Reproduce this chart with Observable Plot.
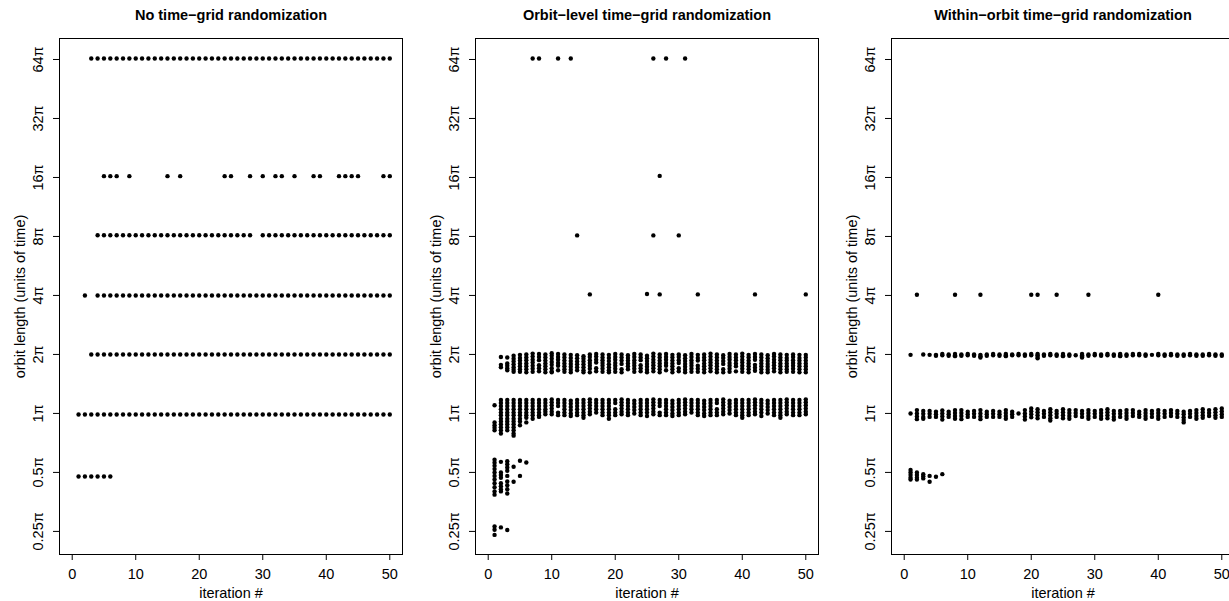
<!DOCTYPE html>
<html>
<head>
<meta charset="utf-8">
<script src="https://cdn.jsdelivr.net/npm/d3@7"></script>
<script src="https://cdn.jsdelivr.net/npm/@observablehq/plot@0.6"></script>
<style>
  body { margin: 0; background: #fff; }
  #wrap { width: 1229px; height: 601px; overflow: hidden; display: flex; background: #fff; }
  #wrap > svg { flex: none; }
</style>
</head>
<body>
<div id="wrap"></div>
<script>
// ---------- text ----------
const titles = [
  "No time\u2212grid randomization",
  "Orbit\u2212level time\u2212grid randomization",
  "Within\u2212orbit time\u2212grid randomization"
];
const xLabel = "iteration #";
const yLabel = "orbit length (units of time)";

// ---------- axes ----------
const xTicks = [0, 10, 20, 30, 40, 50];
const yTicks = [0.25, 0.5, 1, 2, 4, 8, 16, 32, 64];   // multiples of π
const xDomain = [-2, 52];
const yDomain = [0.1906, 81.9];

// ---------- panel 1: no randomization (orbit length in units of π; iteration runs [from, to]) ----------
const noRandLevels = [64.75, 16.25, 8.12, 4.0, 2.0, 0.988, 0.477];
const noRandRuns = [
  [[3, 50]],
  [[5, 7], [9, 9], [15, 15], [17, 17], [24, 25], [28, 28], [30, 30], [32, 33], [35, 35], [38, 39], [42, 45], [49, 50]],
  [[4, 28], [30, 50]],
  [[2, 2], [4, 50]],
  [[3, 50]],
  [[1, 50]],
  [[1, 6]]
];

// ---------- panel 2: orbit-level randomization (values per iteration 1..50) ----------
const orbitNear2 = [
  [], [1.94,1.77,1.72], [1.93,1.80,1.75,1.70,1.66],
  [1.97,1.90,1.84,1.78,1.72,1.67,1.63], [1.99,1.92,1.86,1.80,1.74,1.68,1.63],
  [2.00,1.93,1.87,1.80,1.74,1.68,1.62], [2.02,1.95,1.88,1.82,1.75,1.69,1.63],
  [2.01,1.94,1.87,1.76,1.70,1.64], [2.00,1.93,1.86,1.80,1.74,1.68,1.62],
  [2.03,1.97,1.90,1.83,1.77,1.70,1.64,1.62], [2.01,1.94,1.88,1.81,1.75,1.66],
  [2.00,1.93,1.86,1.80,1.74,1.68,1.63], [1.99,1.92,1.85,1.79,1.73,1.67,1.62],
  [1.98,1.91,1.84,1.78,1.72,1.66], [1.96,1.90,1.84,1.78,1.72,1.66,1.62],
  [2.00,1.94,1.87,1.81,1.75,1.69,1.62], [2.01,1.95,1.88,1.82,1.70,1.64],
  [2.00,1.93,1.87,1.81,1.75,1.69,1.63], [1.99,1.92,1.85,1.78,1.72,1.66,1.62],
  [2.01,1.94,1.88,1.81,1.75,1.69,1.63], [2.00,1.93,1.86,1.79,1.68,1.62],
  [1.98,1.92,1.86,1.80,1.74,1.68], [2.01,1.94,1.87,1.81,1.75,1.69,1.63],
  [2.00,1.93,1.87,1.76,1.70,1.64], [1.97,1.91,1.85,1.79,1.73,1.67,1.62],
  [2.02,1.95,1.88,1.82,1.76,1.70,1.64], [2.00,1.93,1.86,1.80,1.74,1.68,1.62],
  [2.01,1.94,1.88,1.81,1.75,1.66], [1.99,1.93,1.86,1.80,1.74,1.68,1.62],
  [2.00,1.94,1.87,1.81,1.70,1.64], [1.98,1.91,1.85,1.79,1.73,1.67,1.62],
  [2.01,1.94,1.87,1.81,1.75,1.69,1.63], [1.99,1.92,1.86,1.75,1.69,1.63],
  [2.00,1.93,1.87,1.80,1.74,1.68,1.62], [2.02,1.95,1.88,1.82,1.76,1.70,1.64],
  [2.00,1.93,1.86,1.80,1.74,1.68,1.62], [1.98,1.92,1.85,1.79,1.68,1.62],
  [2.01,1.94,1.88,1.81,1.75,1.69,1.63], [2.00,1.93,1.87,1.80,1.74,1.64],
  [2.02,1.95,1.88,1.82,1.75,1.69,1.63], [1.99,1.93,1.86,1.80,1.74,1.68,1.62],
  [2.01,1.94,1.88,1.77,1.71,1.65], [2.00,1.93,1.86,1.80,1.74,1.68,1.62],
  [1.98,1.91,1.85,1.79,1.73,1.67,1.62], [2.01,1.95,1.88,1.82,1.76,1.70,1.64],
  [2.00,1.93,1.87,1.80,1.74,1.68,1.62], [1.99,1.92,1.86,1.80,1.74,1.68,1.63],
  [2.00,1.94,1.87,1.81,1.75,1.69,1.63], [1.99,1.92,1.86,1.80,1.74,1.68,1.62],
  [1.99,1.93,1.86,1.80,1.74,1.68,1.62]
];
const orbitNear1 = [
  [1.10,0.90,0.87,0.845,0.82],
  [1.17,1.13,1.09,1.05,1.01,0.98,0.94,0.91,0.88,0.85,0.82,0.79],
  [1.17,1.13,1.09,1.05,1.01,0.98,0.94,0.91,0.88,0.85,0.82],
  [1.17,1.13,1.09,1.05,1.01,0.98,0.94,0.91,0.88,0.85,0.82,0.79,0.77],
  [1.17,1.13,1.09,1.05,1.01,0.98,0.94,0.91,0.87],
  [1.17,1.13,1.09,1.05,1.01,0.98,0.95,0.90],
  [1.17,1.13,1.09,1.05,1.01,0.98,0.94],
  [1.17,1.13,1.09,1.05,1.01,0.98,0.96],
  [1.17,1.13,1.09,1.05,1.02,0.99], [1.18,1.14,1.10,1.06,1.02,0.99],
  [1.17,1.13,1.09,1.01,0.98], [1.17,1.13,1.09,1.05,1.01,0.98],
  [1.16,1.12,1.08,1.04,1.00,0.97], [1.17,1.13,1.09,1.05,1.01,0.98],
  [1.17,1.13,1.09,1.05,1.01,0.98,0.95], [1.18,1.14,1.10,1.06,1.02,0.99],
  [1.17,1.13,1.09,1.05,1.01], [1.17,1.13,1.09,1.05,1.01,0.98],
  [1.17,1.13,1.09,1.05,1.01,0.98,0.94], [1.17,1.13,1.05,1.01,0.98],
  [1.18,1.14,1.10,1.06,1.02,0.99], [1.17,1.13,1.09,1.05,1.01,0.98],
  [1.16,1.12,1.08,1.04,1.00], [1.17,1.13,1.09,1.05,1.01,0.98],
  [1.17,1.13,1.09,1.05,1.01,0.97], [1.18,1.14,1.10,1.06,1.02,0.99],
  [1.17,1.13,1.09,1.01,0.98], [1.17,1.13,1.09,1.05,1.01,0.98],
  [1.16,1.12,1.08,1.04,1.00,0.97], [1.17,1.13,1.09,1.05,1.01,0.98],
  [1.18,1.14,1.10,1.06,1.02,0.99], [1.17,1.13,1.09,1.05,1.01],
  [1.17,1.13,1.09,1.05,1.01,0.98], [1.16,1.12,1.08,1.04,1.00,0.97],
  [1.17,1.13,1.09,1.05,1.01,0.98], [1.17,1.13,1.05,1.01,0.98],
  [1.18,1.14,1.10,1.06,1.02,0.99], [1.16,1.12,1.08,1.04,1.00],
  [1.17,1.13,1.09,1.05,1.01,0.98], [1.17,1.13,1.09,1.05,1.01,0.98,0.95],
  [1.17,1.13,1.09,1.05,1.01,0.98], [1.18,1.14,1.10,1.06,1.02,0.99],
  [1.17,1.13,1.09,1.05,1.01,0.97], [1.16,1.12,1.08,1.04,1.00],
  [1.17,1.13,1.09,1.05,1.01,0.98], [1.17,1.13,1.09,1.05,1.01,0.98,0.95],
  [1.18,1.14,1.10,1.06,1.02,0.99], [1.17,1.13,1.09,1.05,1.01,0.98],
  [1.17,1.13,1.09,1.05,1.01,0.98], [1.18,1.14,1.10,1.06,1.02,0.99]
];
const orbitLow = [   // iterations 1..6, below 0.6π
  [0.58,0.56,0.54,0.52,0.50,0.48,0.46,0.44,0.42,0.40,0.385,0.265,0.255,0.24],
  [0.566,0.50,0.485,0.47,0.44,0.425,0.41,0.40,0.262],
  [0.57,0.55,0.53,0.51,0.48,0.45,0.43,0.41,0.39,0.254],
  [0.534,0.448],
  [0.573,0.48],
  [0.562]
];
const orbitSparseIter  = [7, 8, 11, 13, 26, 28, 31, 27, 14, 26, 30, 16, 25, 27, 33, 42, 50];
const orbitSparseValue = [64.8, 64.8, 64.8, 64.8, 64.8, 64.8, 64.8, 16.3, 8.1, 8.1, 8.1, 4.05, 4.07, 4.05, 4.05, 4.05, 4.05];

// ---------- panel 3: within-orbit randomization (values per iteration 1..50) ----------
const withinNear2 = [
  [1.99], [], [2.0], [1.99], [1.99,1.97], [2.01,1.98], [2.0,1.97], [2.01,1.98,1.96], [2.0,1.97], [2.01,1.98],
  [2.0,1.97], [1.99,1.96,1.93], [2.0,1.97], [2.01,1.98], [2.0,1.97], [2.01,1.98,1.96], [2.0,1.98], [2.01,1.98], [2.0,1.97], [2.01,1.98],
  [2.01,1.98,1.94,1.91], [2.0,1.97], [2.01,1.98], [2.0,1.97], [2.01,1.98,1.96], [2.0,1.97], [1.98], [2.01,1.98,1.95,1.93], [2.0,1.97], [2.01,1.98],
  [2.0,1.97], [2.01,1.98], [2.0,1.97], [2.01,1.98,1.96], [2.0,1.97], [2.01,1.98], [2.01,1.98], [2.0,1.97], [1.99], [2.01,1.98],
  [2.0,1.97], [2.01,1.98], [2.0,1.97], [2.0,1.97], [2.01,1.98], [2.0,1.97], [2.0,1.97], [2.01,1.98], [2.0,1.97], [2.0,1.97]
];
const withinNear1 = [
  [1.00], [1.04,1.00,0.965,0.935], [1.03,0.995,0.96,0.94], [1.03,0.995,0.96], [1.02,0.99,0.96],
  [1.035,1.0,0.965,0.93], [1.02,0.99,0.96], [1.04,1.005,0.97,0.94], [1.04,1.005,0.97,0.935], [1.02,0.99,0.96],
  [1.03,0.995,0.96], [1.04,1.0,0.965,0.935], [1.02,0.99,0.96], [1.03,0.995,0.96], [1.02,0.99,0.96],
  [1.04,1.005,0.97,0.94], [1.02,0.99,0.96], [1.00], [1.04,1.0,0.965,0.93], [1.06,1.025,0.99,0.955],
  [1.05,1.015,0.98,0.945], [1.03,0.995,0.96], [1.05,1.015,0.98,0.945,0.92], [1.03,0.995,0.96], [1.05,1.015,0.98,0.945],
  [1.04,1.005,0.97,0.94], [1.04,1.005,0.97], [1.03,0.995,0.96], [1.04,1.005,0.97,0.94], [1.03,0.995,0.96],
  [1.04,1.005,0.97,0.94], [1.05,1.015,0.98,0.945], [1.03,0.995,0.96,0.93], [1.03,0.995,0.96], [1.04,1.005,0.97,0.94],
  [1.04,1.005,0.97], [1.02,0.99,0.96], [1.04,1.005,0.97,0.94], [1.03,0.995,0.96], [1.04,1.005,0.97,0.94],
  [1.03,0.995,0.96], [1.04,1.005,0.97], [1.03,0.995,0.96], [1.02,0.99,0.955,0.925,0.90], [1.03,0.995,0.96],
  [1.04,1.005,0.97,0.94], [1.05,1.015,0.98,0.95], [1.04,1.005,0.97], [1.05,1.015,0.98,0.95], [1.06,1.025,0.99,0.96]
];
const withinLow = [  // iterations 1..6
  [0.515,0.50,0.485,0.47,0.46],
  [0.50,0.485,0.47,0.46],
  [0.49,0.478,0.466],
  [0.48,0.448],
  [0.475],
  [0.49]
];
const withinSparseIter  = [2, 8, 12, 20, 21, 24, 29, 40];
const withinSparseValue = [4.03, 4.03, 4.03, 4.03, 4.03, 4.03, 4.03, 4.03];

// ---------- build rows ----------
function fromRuns(levels, runs) {
  const rows = [];
  levels.forEach((v, i) => runs[i].forEach(([a, b]) => d3.range(a, b + 1).forEach(it => rows.push({iter: it, len: v}))));
  return rows;
}
function fromColumns(cols) {
  const rows = [];
  cols.forEach((vals, i) => vals.forEach(v => rows.push({iter: i + 1, len: v})));
  return rows;
}
function fromPairs(iters, vals) {
  return iters.map((it, i) => ({iter: it, len: vals[i]}));
}

const panelRows = [
  fromRuns(noRandLevels, noRandRuns),
  [...fromColumns(orbitNear2), ...fromColumns(orbitNear1), ...fromColumns(orbitLow), ...fromPairs(orbitSparseIter, orbitSparseValue)],
  [...fromColumns(withinNear2), ...fromColumns(withinNear1), ...fromColumns(withinLow), ...fromPairs(withinSparseIter, withinSparseValue)]
];

const font = "'Liberation Sans', Arial, Helvetica, sans-serif";
function panel(title, rows) {
  return Plot.plot({
    width: 416, height: 601,
    marginLeft: 59, marginRight: 14, marginTop: 38, marginBottom: 47,
    style: {fontFamily: font, fontSize: "14.5px", background: "white", color: "black", overflow: "visible"},
    x: {domain: xDomain, ticks: xTicks, tickSize: 6, tickPadding: 8, label: null},
    y: {type: "log", base: 2, domain: yDomain, ticks: yTicks, tickFormat: d => d + "\u03c0",
        tickSize: 6, tickRotate: -90, tickPadding: 10.5, label: null},
    marks: [
      Plot.frame({stroke: "black"}),
      Plot.dot(rows, {x: "iter", y: "len", r: 2.2, fill: "black"}),
      Plot.text([title], {frameAnchor: "top", dy: -23, lineAnchor: "middle", fontWeight: "bold", fontSize: 14.5}),
      Plot.text([xLabel], {frameAnchor: "bottom", dy: 39, lineAnchor: "middle"}),
      Plot.text([yLabel], {frameAnchor: "left", dx: -39, rotate: -90, textAnchor: "middle", lineAnchor: "middle"})
    ]
  });
}

const wrap = document.getElementById("wrap");
titles.forEach((t, i) => wrap.appendChild(panel(t, panelRows[i])));
</script>
</body>
</html>
